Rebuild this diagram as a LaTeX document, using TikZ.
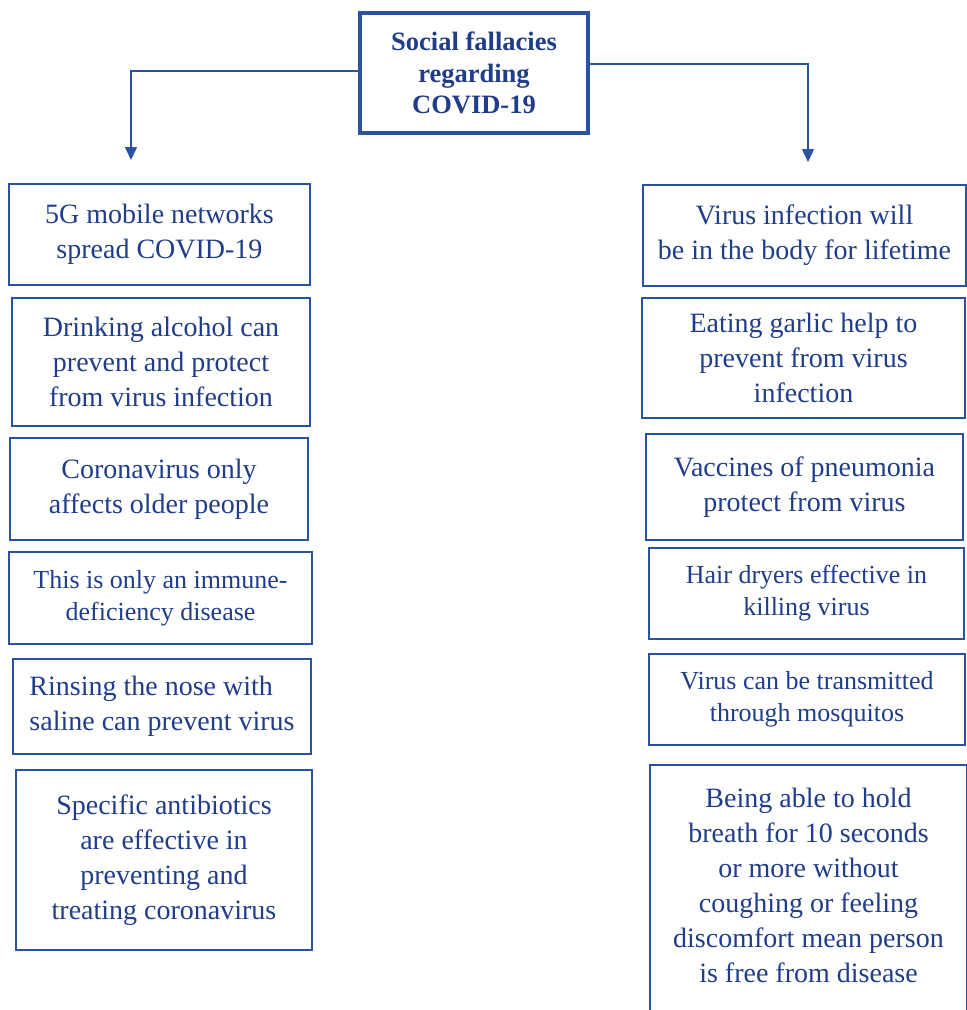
\documentclass[tikz,border=0pt]{standalone}
\usepackage{fontspec}
\setmainfont{Liberation Serif}
\usetikzlibrary{arrows.meta}
\definecolor{edge}{HTML}{2A52A2}
\definecolor{ink}{HTML}{1F3D89}
\tikzset{
  base/.style={draw=edge, align=center, inner sep=2pt, text=ink},
  card/.style={base, line width=2.6pt, font=\fontsize{28}{35}\selectfont},
  small/.style={base, line width=2.6pt, font=\fontsize{26}{32}\selectfont},
  head/.style={base, line width=4.5pt, font=\bfseries\fontsize{26.5}{31.5}\selectfont},
  arr/.style={-{Triangle[length=13pt,width=12pt]}, line width=1.5pt, draw=edge},
}
\begin{document}
\begin{tikzpicture}[x=1pt, y=-1pt]
    \useasboundingbox[fill=white] (0,0) rectangle (967,1010);
    \node[head, minimum width=228pt, minimum height=120pt] (t) at (474,73) {Social fallacies\\regarding\\COVID-19};
    % left column
    \node[card, minimum width=301pt, minimum height=101pt] (l1) at (159.5,234.5) {5G mobile networks\\spread COVID-19};
    \node[card, minimum width=298pt, minimum height=128pt] (l2) at (161,362) {Drinking alcohol can\\prevent and protect\\from virus infection};
    \node[card, minimum width=298pt, minimum height=102pt] (l3) at (159,489) {Coronavirus only\\affects older people};
    \node[small, minimum width=303pt, minimum height=92pt] (l4) at (160.5,598) {This is only an immune-\\deficiency disease};
    \node[card, align=left, minimum width=298pt, minimum height=95pt] (l5) at (162,706.5) {Rinsing the nose with\\saline can prevent virus};
    \node[card, minimum width=296pt, minimum height=180pt] (l6) at (164,860) {Specific antibiotics\\are effective in\\preventing and\\treating coronavirus};
    % right column
    \node[card, minimum width=323pt, minimum height=101pt] (r1) at (804.5,235.5) {Virus infection will\\be in the body for lifetime};
    \node[card, minimum width=323pt, minimum height=120pt] (r2) at (803.5,358) {Eating garlic help to\\prevent from virus\\infection};
    \node[card, minimum width=317pt, minimum height=106pt] (r3) at (804.5,487) {Vaccines of pneumonia\\protect from virus};
    \node[small, minimum width=315pt, minimum height=91pt] (r4) at (806.5,593.5) {Hair dryers effective in\\killing virus};
    \node[small, minimum width=316pt, minimum height=91pt] (r5) at (807,699.5) {Virus can be transmitted\\through mosquitos};
    \node[card, minimum width=317pt, minimum height=275pt] (r6) at (808.5,902.5) {Being able to hold\\breath for 10 seconds\\or more without\\coughing or feeling\\discomfort mean person\\is free from disease\\ \mbox{}};
    \coordinate (la) at (131,160);
    \coordinate (ra) at (808,162);
    \draw[arr] ([yshift=2pt]t.west) -| (la);
    \draw[arr] ([yshift=9pt]t.east) -| (ra);
\end{tikzpicture}
\end{document}
